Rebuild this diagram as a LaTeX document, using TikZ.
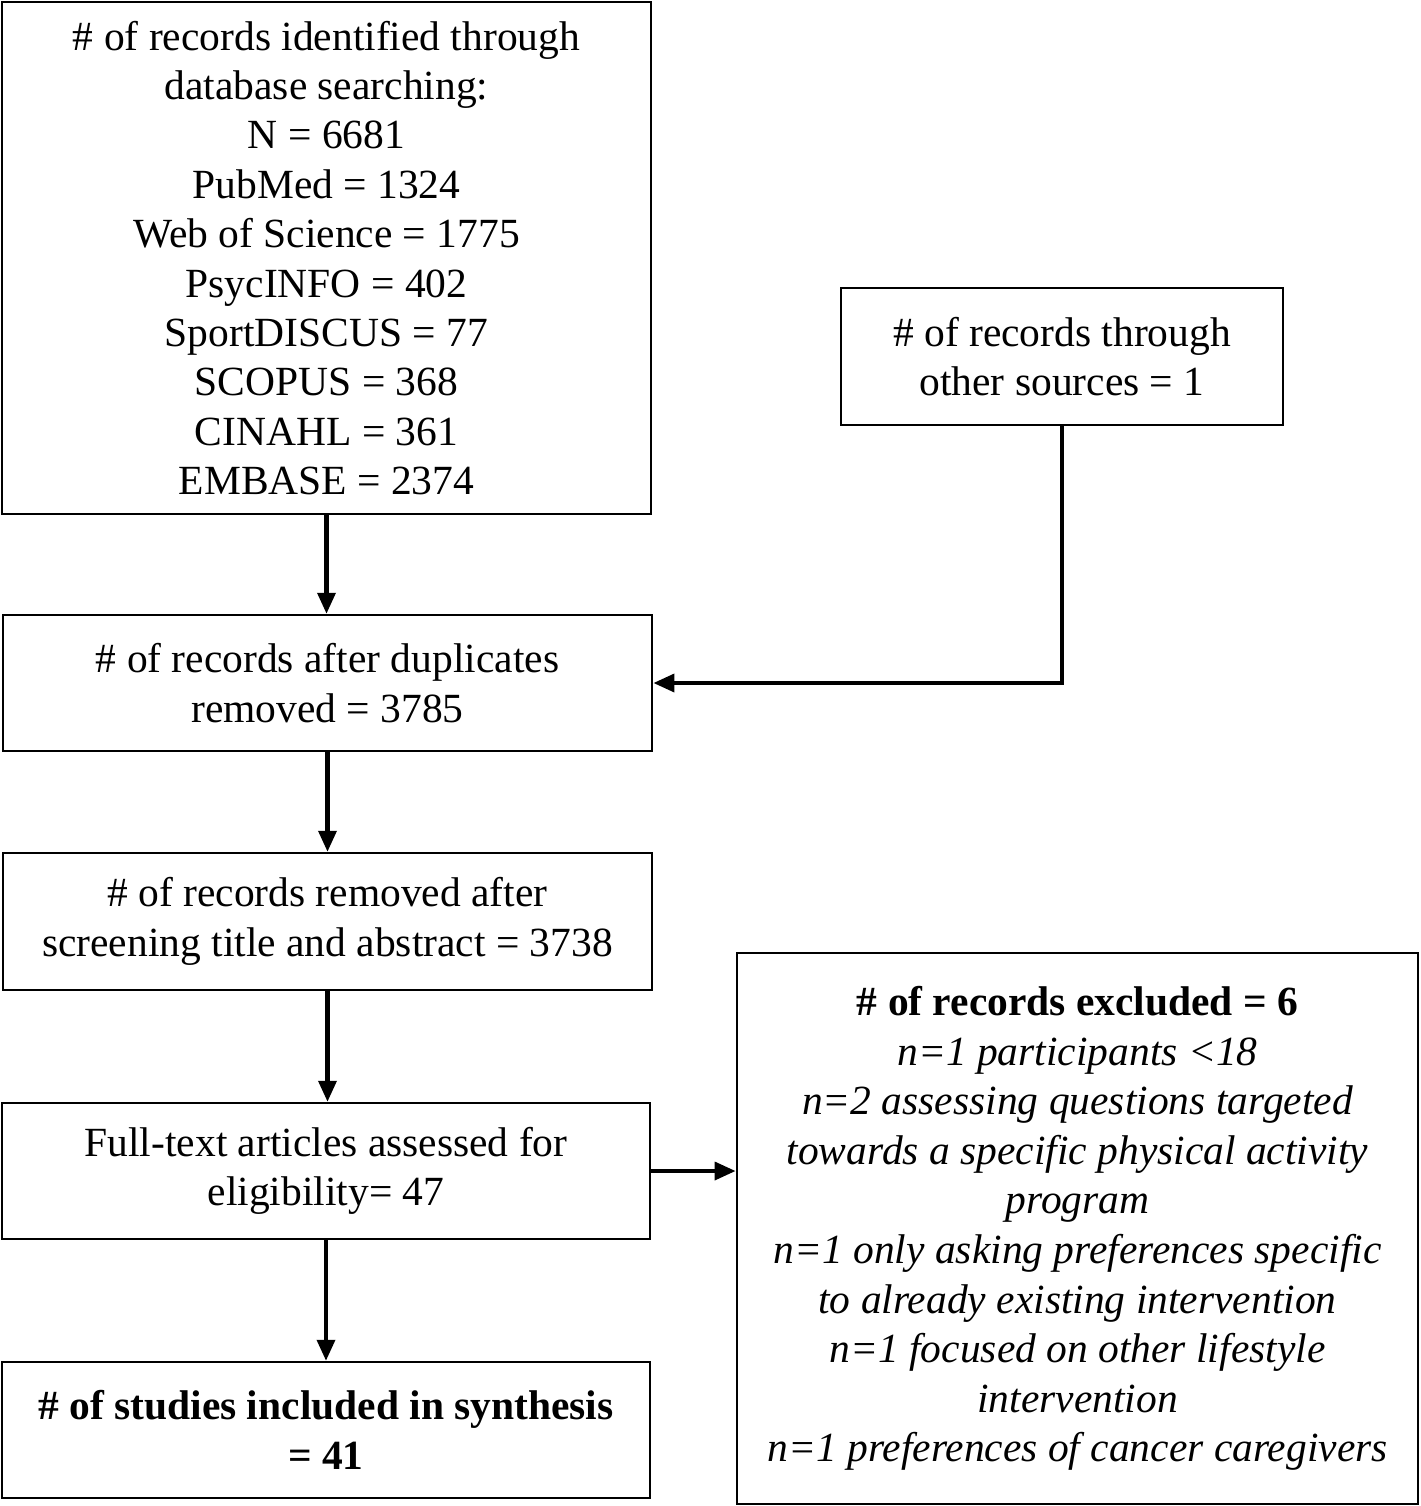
\documentclass[tikz,border=0pt]{standalone}
\usepackage{fontspec}
\setmainfont{Liberation Serif}
\usetikzlibrary{arrows.meta,positioning,calc}

\begin{document}
\begin{tikzpicture}[x=0.01cm, y=-0.01cm,
  font=\fontsize{11.8}{14.05}\selectfont,
  box/.style={draw, line width=0.6pt, align=center, inner sep=0pt},
  arr/.style={-{Triangle[length=6pt, width=5pt]}, line width=1.3pt}]

\useasboundingbox (0,0) rectangle (1420,1506);

% Identification
\node[box, minimum width=6.49cm, minimum height=5.12cm] (search) at (326.5,258)
  {\# of records identified through\\ database searching:\\ N = 6681\\ PubMed = 1324\\
   Web of Science = 1775\\ PsycINFO = 402\\ SportDISCUS = 77\\ SCOPUS = 368\\
   CINAHL = 361\\ EMBASE = 2374};
\node[box, minimum width=4.42cm, minimum height=1.37cm] (other) at (1062,356.5)
  {\# of records through\\ other sources = 1};

% Screening
\node[box, minimum width=6.49cm, minimum height=1.36cm] (dupl) at (327.5,683)
  {\# of records after duplicates\\ removed = 3785};
\node[box, minimum width=6.49cm, minimum height=1.37cm] (screen) at (327.5,921.5)
  {\# of records removed after\\ screening title and abstract = 3738};

% Eligibility
\node[box, minimum width=6.48cm, minimum height=1.36cm] (full) at (326,1171)
  {Full-text articles assessed for\\ eligibility= 47};
\node[box, minimum width=6.81cm, minimum height=5.51cm, font=\fontsize{11.8}{14.1}\selectfont] (excl) at (1077.5,1228.5)
  {\textbf{\# of records excluded = 6}\\ \itshape n=1 participants <18\\
   \itshape n=2 assessing questions targeted\\ \itshape towards a specific physical activity\\
   \itshape program\\ \itshape n=1 only asking preferences specific\\
   \itshape to already existing intervention\\ \itshape n=1 focused on other lifestyle\\
   \itshape intervention\\ \itshape n=1 preferences of cancer caregivers};

% Included
\node[box, minimum width=6.48cm, minimum height=1.36cm, font=\fontsize{11.8}{14.05}\selectfont\bfseries] (incl) at (326,1430)
  {\# of studies included in synthesis\\ = 41};

% Arrows
\draw[arr] (search.south) -- (search.south |- dupl.north);
\draw[arr] (other.south) |- (dupl.east);
\draw[arr] (dupl.south) -- (screen.north);
\draw[arr] (screen.south) -- (screen.south |- full.north);
\draw[arr] (full.east) -- (excl.west |- full.east);
\draw[arr] (full.south) -- (incl.north);

\end{tikzpicture}
\end{document}
